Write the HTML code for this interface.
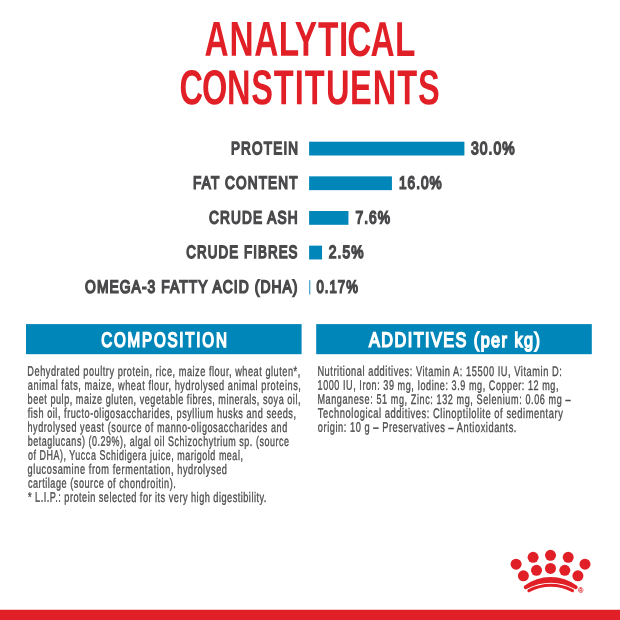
<!DOCTYPE html>
<html><head><meta charset="utf-8"><title>Analytical Constituents</title>
<style>
html,body{margin:0;padding:0;background:#fff;}
body{width:620px;height:620px;overflow:hidden;}
svg{display:block;}
text{font-family:"Liberation Sans",sans-serif;white-space:pre;}
.t{font-weight:bold;fill:#e11f26;font-size:49.0px;}
.l{font-weight:normal;fill:#4a4a4c;font-size:17.75px;stroke:#4a4a4c;stroke-width:1.6px;stroke-linejoin:miter;}
.h{font-weight:normal;fill:#ffffff;font-size:20.5px;stroke:#ffffff;stroke-width:1.6px;stroke-linejoin:miter;}
.b{font-weight:normal;fill:#4e4e50;font-size:13.85px;stroke:#4e4e50;stroke-width:0.35px;stroke-linejoin:miter;}
</style></head><body>
<svg width="620" height="620" viewBox="0 0 620 620">
<rect width="620" height="620" fill="#fff"/>
<g id="shapes">
<g fill="#0086b8">
<rect x="309.1" y="141.70" width="155.31" height="13.8"/>
<rect x="309.1" y="176.35" width="82.83" height="13.8"/>
<rect x="309.1" y="211.00" width="39.35" height="13.8"/>
<rect x="309.1" y="245.65" width="12.94" height="13.8"/>
<rect x="309.2" y="280.2" width="1.1" height="14.3" fill="#2f9ac6"/>
<rect x="26" y="324.1" width="275.6" height="30.1"/>
<rect x="316.2" y="324.1" width="275.6" height="30.1"/>
</g>
<g fill="#e11f26">
<circle cx="516.1" cy="564.2" r="5.5"/>
<circle cx="533.1" cy="557.3" r="5.5"/>
<circle cx="550.5" cy="555.3" r="5.5"/>
<circle cx="568.2" cy="557.3" r="5.5"/>
<circle cx="585" cy="564.2" r="5.5"/>
<circle cx="523.4" cy="575.8" r="5.5"/>
<circle cx="536.5" cy="570.3" r="5.5"/>
<circle cx="550.5" cy="568.4" r="5.5"/>
<circle cx="564.8" cy="570.3" r="5.5"/>
<circle cx="577.9" cy="575.8" r="5.5"/>
<rect x="0" y="609.75" width="620" height="10.25"/>
</g>
<path fill="#e11f26" d="M524.4 585.8 A44.2 44.2 0 0 1 577.0 585.8 A1.95 1.95 0 0 1 574.5 588.8 A49.0 49.0 0 0 0 526.9 588.8 A1.95 1.95 0 0 1 524.4 585.8 Z"/>
<g fill="none" stroke="#e11f26" stroke-linecap="round">
<path d="M528.9 590.7 A47.1 47.1 0 0 1 572.5 590.7" stroke-width="3"/>
</g>
<text x="578.0" y="592.6" font-size="7.3" fill="#e11f26" stroke="#e11f26" stroke-width="0.15">®</text>
</g>
<text id="t0" class="t" transform="translate(204.52,55.80) skewY(0.04) scale(0.6815,1)" x="0.00 36.58 72.92 108.84 132.47 166.57 197.41 209.52 243.64 279.63">ANALYTICAL</text>
<text id="t1" class="t" transform="translate(179.55,104.20) skewY(0.04) scale(0.6655,1)" x="0.00 33.86 71.27 107.72 141.59 173.05 188.25 220.19 256.30 290.42 327.09 358.43">CONSTITUENTS</text>
<text id="t2" class="l" transform="translate(230.90,154.20) skewY(0.04) scale(0.7616,1)" letter-spacing="1.566">PROTEIN</text>
<text id="t3" class="l" transform="translate(193.02,188.80) skewY(0.04) scale(0.7646,1)" letter-spacing="1.523">FAT CONTENT</text>
<text id="t4" class="l" transform="translate(208.99,223.40) skewY(0.04) scale(0.7677,1)" letter-spacing="1.504">CRUDE ASH</text>
<text id="t5" class="l" transform="translate(186.36,258.00) skewY(0.04) scale(0.7482,1)" letter-spacing="1.498">CRUDE FIBRES</text>
<text id="t6" class="l" transform="translate(85.06,292.70) skewY(0.04) scale(0.7802,1)" letter-spacing="1.365">OMEGA-3 FATTY ACID (DHA)</text>
<text id="t7" class="l" transform="translate(470.96,154.20) skewY(0.04) scale(0.7841,1)" letter-spacing="1.353">30.0%</text>
<text id="t8" class="l" transform="translate(398.90,188.80) skewY(0.04) scale(0.7683,1)" letter-spacing="1.366">16.0%</text>
<text id="t9" class="l" transform="translate(355.53,223.40) skewY(0.04) scale(0.7793,1)" letter-spacing="1.256">7.6%</text>
<text id="t10" class="l" transform="translate(328.85,258.00) skewY(0.04) scale(0.7793,1)" letter-spacing="1.343">2.5%</text>
<text id="t11" class="l" transform="translate(316.51,292.70) skewY(0.04) scale(0.7403,1)" letter-spacing="1.391">0.17%</text>
<text id="t12" class="h" transform="translate(101.30,346.80) skewY(0.04) scale(0.7392,1)" letter-spacing="2.417">COMPOSITION</text>
<text id="t13" class="h" transform="translate(369.09,346.80) skewY(0.04) scale(0.7940,1)" letter-spacing="1.802">ADDITIVES (per kg)</text>
<text id="t14" class="b" transform="translate(27.37,375.82) skewY(0.04) scale(0.6629,1)" letter-spacing="0.813">Dehydrated poultry protein, rice, maize flour, wheat gluten*,</text>
<text id="t15" class="b" transform="translate(27.87,389.82) skewY(0.04) scale(0.6645,1)" letter-spacing="0.822">animal fats, maize, wheat flour, hydrolysed animal proteins,</text>
<text id="t16" class="b" transform="translate(27.62,403.82) skewY(0.04) scale(0.6559,1)" letter-spacing="0.804">beet pulp, maize gluten, vegetable fibres, minerals, soya oil,</text>
<text id="t17" class="b" transform="translate(27.72,417.82) skewY(0.04) scale(0.6589,1)" letter-spacing="0.826">fish oil, fructo-oligosaccharides, psyllium husks and seeds,</text>
<text id="t18" class="b" transform="translate(27.42,431.82) skewY(0.04) scale(0.6540,1)" letter-spacing="0.893">hydrolysed yeast (source of manno-oligosaccharides and</text>
<text id="t19" class="b" transform="translate(27.65,445.82) skewY(0.04) scale(0.6464,1)" letter-spacing="0.844">betaglucans) (0.29%), algal oil Schizochytrium sp. (source</text>
<text id="t20" class="b" transform="translate(27.88,459.82) skewY(0.04) scale(0.6444,1)" letter-spacing="0.855">of DHA), Yucca Schidigera juice, marigold meal,</text>
<text id="t21" class="b" transform="translate(27.55,473.82) skewY(0.04) scale(0.6639,1)" letter-spacing="0.891">glucosamine from fermentation, hydrolysed</text>
<text id="t22" class="b" transform="translate(27.90,487.82) skewY(0.04) scale(0.6593,1)" letter-spacing="0.808">cartilage (source of chondroitin).</text>
<text id="t23" class="b" transform="translate(28.01,501.82) skewY(0.04) scale(0.6644,1)" letter-spacing="0.717">* L.I.P.: protein selected for its very high digestibility.</text>
<text id="t24" class="b" transform="translate(317.38,375.82) skewY(0.04) scale(0.6685,1)" letter-spacing="0.829">Nutritional additives: Vitamin A: 15500 IU, Vitamin D:</text>
<text id="t25" class="b" transform="translate(317.57,389.82) skewY(0.04) scale(0.6546,1)" letter-spacing="0.855">1000 IU, Iron: 39 mg, Iodine: 3.9 mg, Copper: 12 mg,</text>
<text id="t26" class="b" transform="translate(317.41,403.82) skewY(0.04) scale(0.6539,1)" letter-spacing="0.927">Manganese: 51 mg, Zinc: 132 mg, Selenium: 0.06 mg –</text>
<text id="t27" class="b" transform="translate(317.87,417.82) skewY(0.04) scale(0.6758,1)" letter-spacing="0.815">Technological additives: Clinoptilolite of sedimentary</text>
<text id="t28" class="b" transform="translate(317.84,431.82) skewY(0.04) scale(0.6701,1)" letter-spacing="0.816">origin: 10 g – Preservatives – Antioxidants.</text>
</svg>
</body></html>
